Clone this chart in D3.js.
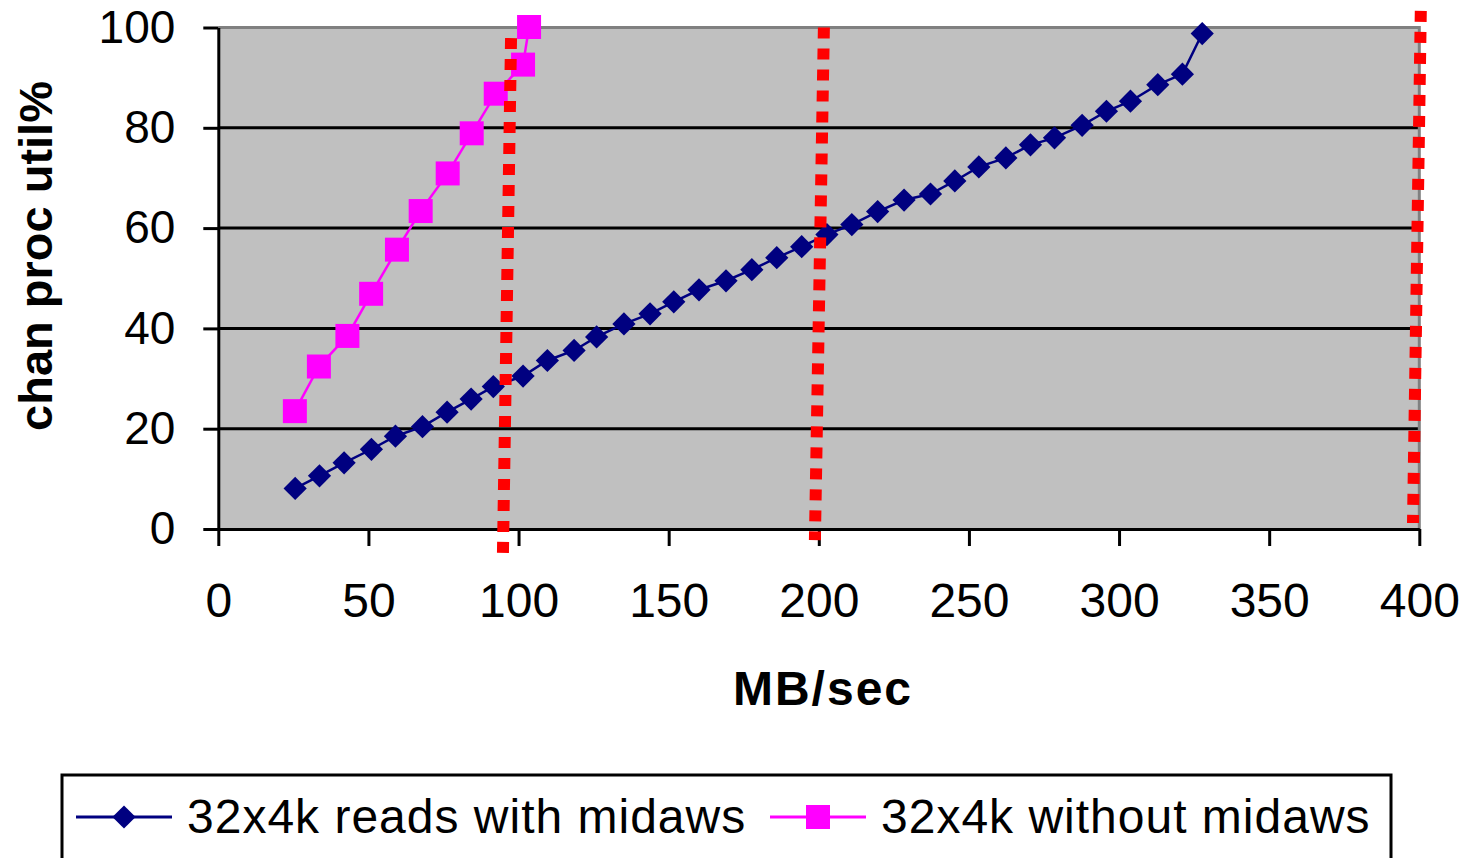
<!DOCTYPE html>
<html>
<head>
<meta charset="utf-8">
<title>chan proc util vs MB/sec</title>
<style>
	body { margin: 0; background: #fff; }
	svg text { font-family: "Liberation Sans", Arial, sans-serif; fill: #000; }
	.axis path, .axis line { stroke: #000; stroke-width: 3px; }
	.axis text { font-size: 47px; }
</style>
</head>
<body>
<svg id="chart" width="1466" height="858"></svg>
<script src="https://cdn.jsdelivr.net/npm/d3@7/dist/d3.min.js"></script>
<script>
// 32x4k reads with midaws
var withX = [25.6, 33.7, 41.9, 51.0, 59.0, 68.0, 76.2, 84.2, 91.6, 101.5, 109.6, 118.5, 126.0,
	135.1, 143.8, 151.7, 160.1, 169.1, 177.7, 186.0, 194.3, 202.7, 211.0, 219.6, 228.4, 237.2,
	245.3, 253.3, 262.3, 270.5, 278.5, 287.7, 295.8, 303.8, 312.9, 321.1, 327.7];
var withY = [8.1, 10.6, 13.2, 15.9, 18.5, 20.4, 23.3, 25.9, 28.4, 30.5, 33.6, 35.6, 38.3,
	40.9, 42.9, 45.3, 47.7, 49.5, 51.7, 54.1, 56.3, 58.7, 60.7, 63.3, 65.6, 66.8,
	69.4, 72.2, 74.0, 76.6, 78.0, 80.5, 83.3, 85.3, 88.6, 90.7, 98.8];

// 32x4k without midaws
var withoutX = [25.5, 33.5, 43.0, 50.9, 59.5, 67.4, 76.4, 84.4, 92.4, 101.5, 103.5];
var withoutY = [23.5, 32.4, 38.5, 46.9, 55.7, 63.4, 70.9, 78.9, 86.8, 92.6, 100.1];

// red dotted limit lines (top point, bottom point)
var limitX = [[97.5, 94.8], [201.7, 198.7], [400.5, 397.9]];
var limitY = [[97.9, -4.8], [100, -2.2], [103.3, 1.2]];

var xTicks = [0, 50, 100, 150, 200, 250, 300, 350, 400];
var yTicks = [0, 20, 40, 60, 80, 100];
var seriesNames = ["32x4k reads with midaws", "32x4k without midaws"];

var svg = d3.select("#chart");

var x = d3.scaleLinear().domain([0, 400]).range([218.3, 1419.3]);
var y = d3.scaleLinear().domain([0, 100]).range([529, 27.5]);

// plot area
svg.append("rect")
	.attr("x", x(0)).attr("y", y(100))
	.attr("width", x(400) - x(0)).attr("height", y(0) - y(100))
	.attr("fill", "#c0c0c0");

// grid lines
svg.append("g").selectAll("line")
	.data(yTicks.filter(function(d) { return d > 0 && d < 100; }))
	.enter().append("line")
	.attr("x1", x(0)).attr("x2", x(400))
	.attr("y1", function(d) { return y(d); }).attr("y2", function(d) { return y(d); })
	.attr("stroke", "#000").attr("stroke-width", 3);

// gray frame top and right
svg.append("path")
	.attr("d", "M" + x(0) + "," + y(100) + "H" + x(400) + "V" + y(0))
	.attr("fill", "none").attr("stroke", "#808080").attr("stroke-width", 3);

// axes
var yAxis = svg.append("g")
	.attr("class", "axis")
	.attr("transform", "translate(" + x(0) + ",0)")
	.call(d3.axisLeft(y).tickValues(yTicks).tickSize(15).tickSizeOuter(0).tickPadding(28));
yAxis.selectAll("text").style("font-size", "46px");

var xAxis = svg.append("g")
	.attr("class", "axis")
	.attr("transform", "translate(0," + y(0) + ")")
	.call(d3.axisBottom(x).tickValues(xTicks).tickSize(17).tickSizeOuter(0).tickPadding(37));
xAxis.selectAll("text").style("font-size", "48px").attr("dy", "0.71em");

// axis titles
svg.append("text")
	.attr("x", 823).attr("y", 705)
	.attr("text-anchor", "middle")
	.style("font-size", "48px").style("font-weight", "bold").style("letter-spacing", "2px")
	.text("MB/sec");

svg.append("text")
	.attr("transform", "translate(52,256) rotate(-90)")
	.attr("text-anchor", "middle")
	.style("font-size", "47px").style("font-weight", "bold")
	.text("chan proc util%");

// series
var withData = withX.map(function(d, i) { return [d, withY[i]]; });
var withoutData = withoutX.map(function(d, i) { return [d, withoutY[i]]; });

var line = d3.line()
	.x(function(d) { return x(d[0]); })
	.y(function(d) { return y(d[1]); });

svg.append("path").datum(withData)
	.attr("d", line).attr("fill", "none").attr("stroke", "#000080").attr("stroke-width", 2.5);

svg.append("path").datum(withoutData)
	.attr("d", line).attr("fill", "none").attr("stroke", "#ff00ff").attr("stroke-width", 2.5);

var diamond = d3.symbol().type(d3.symbolSquare).size(270);
var square = d3.symbol().type(d3.symbolSquare).size(576);

svg.append("g").selectAll("path")
	.data(withData)
	.enter().append("path")
	.attr("d", diamond)
	.attr("transform", function(d) { return "translate(" + x(d[0]) + "," + y(d[1]) + ") rotate(45)"; })
	.attr("fill", "#000080");

svg.append("g").selectAll("path")
	.data(withoutData)
	.enter().append("path")
	.attr("d", square)
	.attr("transform", function(d) { return "translate(" + x(d[0]) + "," + y(d[1]) + ")"; })
	.attr("fill", "#ff00ff");

// red dotted lines
svg.append("g").selectAll("line")
	.data(limitX)
	.enter().append("line")
	.attr("x1", function(d) { return x(d[0]); })
	.attr("x2", function(d) { return x(d[1]); })
	.attr("y1", function(d, i) { return y(limitY[i][0]); })
	.attr("y2", function(d, i) { return y(limitY[i][1]); })
	.attr("stroke", "#ff0000").attr("stroke-width", 12)
	.attr("stroke-dasharray", "11 10");

// legend
svg.append("rect")
	.attr("x", 62).attr("y", 775).attr("width", 1329).attr("height", 110)
	.attr("fill", "#fff").attr("stroke", "#000").attr("stroke-width", 3);

var legendX = [76, 770];
var legendColors = ["#000080", "#ff00ff"];
var legend = svg.append("g").selectAll("g")
	.data(seriesNames)
	.enter().append("g")
	.attr("transform", function(d, i) { return "translate(" + legendX[i] + ",817)"; });

legend.append("line")
	.attr("x1", 0).attr("x2", 96)
	.attr("stroke", function(d, i) { return legendColors[i]; })
	.attr("stroke-width", 3);

legend.append("path")
	.attr("d", function(d, i) { return i === 0 ? diamond() : square(); })
	.attr("transform", function(d, i) { return "translate(48,0)" + (i === 0 ? " rotate(45)" : ""); })
	.attr("fill", function(d, i) { return legendColors[i]; });

legend.append("text")
	.attr("x", 111).attr("y", 16)
	.style("font-size", "48px").style("letter-spacing", "1px")
	.text(function(d) { return d; });
</script>
</body>
</html>
